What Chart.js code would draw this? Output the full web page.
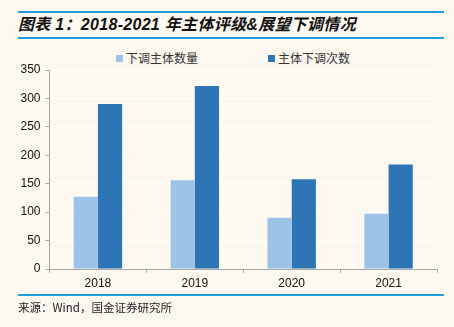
<!DOCTYPE html>
<html>
<head>
<meta charset="utf-8">
<script src="https://cdn.jsdelivr.net/npm/chart.js@4.4.1/dist/chart.umd.min.js"></script>
<style>
  html, body { margin:0; padding:0; background:#FDF9F0; }
  #wrap { position:relative; width:454px; height:327px; background:#FDF9F0; overflow:hidden; }
  #chartBox { position:absolute; left:0; top:0; width:454px; height:327px; }
  .hline { position:absolute; left:18px; width:426px; height:2px; background:#1E9FDF; }
  #title { position:absolute; left:18px; top:14px; height:22px; line-height:22px; font-family:"Liberation Sans","Noto Sans CJK SC",sans-serif; font-weight:bold; font-style:italic; font-size:16px; letter-spacing:0.3px; color:#111; white-space:nowrap; }
  #source { position:absolute; left:18px; top:299px; line-height:16px; font-family:"Noto Sans CJK SC",sans-serif; font-size:11.5px; color:#222; white-space:nowrap; }
  #legend { position:absolute; top:50px; left:0; height:16px; font-family:"Noto Sans CJK SC",sans-serif; font-size:12px; color:#333; }
  .lg { position:absolute; top:0; white-space:nowrap; line-height:16px; }
  .lg i { position:absolute; left:0; top:5px; width:7px; height:7px; }
  .lg span { position:absolute; left:10px; top:0; }
</style>
</head>
<body>
<div id="wrap">
  <div class="hline" style="top:11px;"></div>
  <div id="title">图表 1：2018-2021 年主体评级&amp;展望下调情况</div>
  <div class="hline" style="top:37px;"></div>
  <div id="legend"></div>
  <div id="chartBox"><canvas id="c" width="454" height="327"></canvas></div>
  <div class="hline" style="top:294px;"></div>
  <div id="source">来源：Wind，国金证券研究所</div>
</div>
<script>
const categories = ["2018", "2019", "2020", "2021"];
const seriesNames = ["下调主体数量", "主体下调次数"];
const downgradedEntities = [127, 156, 90, 97];
const downgradeCount = [290, 322, 158, 184];
const yTicks = [0, 50, 100, 150, 200, 250, 300, 350];

const colors = ["#9DC3E6", "#2E75B6"];
const legendX = [116, 268];

// HTML legend built from series names
const lg = document.getElementById('legend');
seriesNames.forEach((n, i) => {
  const d = document.createElement('div');
  d.className = 'lg';
  d.style.left = legendX[i] + 'px';
  d.innerHTML = '<i style="background:' + colors[i] + '"></i><span>' + n + '</span>';
  lg.appendChild(d);
});

const axisColor = "#A6A6A6";
new Chart(document.getElementById('c'), {
  type: 'bar',
  data: {
    labels: categories,
    datasets: [
      { label: seriesNames[0], data: downgradedEntities, backgroundColor: colors[0], categoryPercentage: 0.5, barPercentage: 1.0 },
      { label: seriesNames[1], data: downgradeCount, backgroundColor: colors[1], categoryPercentage: 0.5, barPercentage: 1.0 }
    ]
  },
  options: {
    responsive: false,
    animation: false,
    layout: { padding: { left: 0, right: 17, top: 70, bottom: 38 } },
    plugins: { legend: { display: false }, tooltip: { enabled: false } },
    scales: {
      x: {
        grid: { display: true, drawOnChartArea: false, drawTicks: true, tickLength: 4, tickColor: axisColor, offset: true },
        border: { display: true, color: axisColor, width: 1 },
        ticks: { color: "#111", padding: 3, font: { family: "Liberation Sans", size: 12 } },
        afterFit: s => { s.height = 20; }
      },
      y: {
        min: 0, max: 350,
        afterBuildTicks: s => { s.ticks = yTicks.map(v => ({ value: v })); },
        grid: { display: true, drawOnChartArea: true, color: "rgba(255,255,255,0.9)", drawTicks: true, tickLength: 4, tickColor: axisColor },
        border: { display: true, color: axisColor, width: 1 },
        ticks: { color: "#111", padding: 5, font: { family: "Liberation Sans", size: 12 } },
        afterFit: s => { s.width = 49.5; }
      }
    }
  }
});
</script>
</body>
</html>
